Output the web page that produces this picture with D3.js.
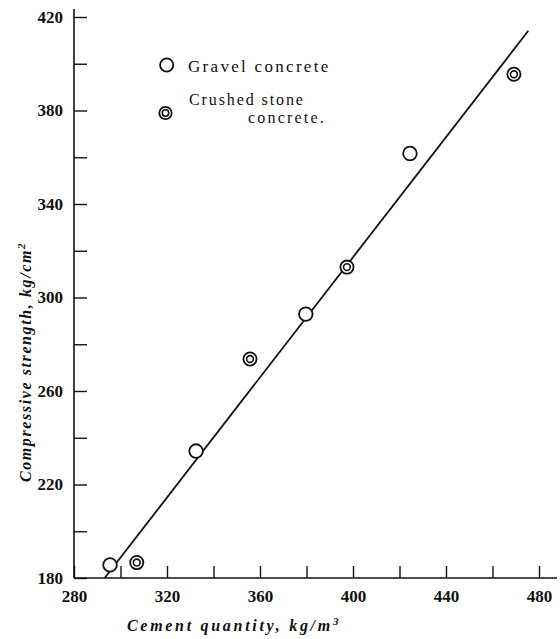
<!DOCTYPE html>
<html>
<head>
<meta charset="utf-8">
<script src="https://cdn.jsdelivr.net/npm/d3@7/dist/d3.min.js"></script>
<style>
  html, body { margin: 0; padding: 0; background: #fff; }
  svg { display: block; }
  text { fill: #111; font-family: "Liberation Serif", "DejaVu Serif", serif; }
</style>
</head>
<body>
<script>
// Cement quantity (kg/m3) vs compressive strength (kg/cm2)
const gravelX = [295.5, 332.5, 379.7, 424.5];
const gravelY = [185.6, 234.3, 292.9, 361.6];
const crushedX = [307.0, 355.7, 397.4, 469.2];
const crushedY = [186.6, 273.7, 313.0, 395.5];
// straight-line fit drawn across the data
const fitX = [293.2, 475.4];
const fitY = [180.0, 414.1];

const xTicks = [280, 300, 320, 340, 360, 380, 400, 420, 440, 460, 480];
const xLabels = [280, 320, 360, 400, 440, 480];
const yTicks = [180, 200, 220, 240, 260, 280, 300, 320, 340, 360, 380, 400, 420];
const yLabels = [180, 220, 260, 300, 340, 380, 420];

const W = 560, H = 639;
const svg = d3.select("body").append("svg").attr("width", W).attr("height", H);

const x = d3.scaleLinear().domain([280, 480]).range([74, 539]);
const y = d3.scaleLinear().domain([180, 420]).range([578, 17]);

const ink = "#111";
const serif = "'Liberation Serif', 'DejaVu Serif', serif";

// axis lines (extend a little past the last ticks)
svg.append("line").attr("x1", x(280)).attr("x2", 557)
  .attr("y1", y(180)).attr("y2", y(180))
  .attr("stroke", ink).attr("stroke-width", 1.6);
svg.append("line").attr("x1", x(280)).attr("x2", x(280))
  .attr("y1", y(180)).attr("y2", 9)
  .attr("stroke", ink).attr("stroke-width", 1.6);

// x axis: inward ticks
const xAxis = d3.axisBottom(x).tickValues(xTicks)
  .tickSize(-12).tickPadding(12).tickSizeOuter(0)
  .tickFormat(d => xLabels.includes(d) ? d : "");
const gx = svg.append("g").attr("transform", `translate(0,${y(180)})`).call(xAxis)
  .attr("font-family", null);
gx.select(".domain").remove();
gx.selectAll(".tick line").attr("stroke", ink).attr("stroke-width", 1.4);
gx.selectAll(".tick text").style("font-family", serif).style("font-size", "17px")
  .style("font-weight", "bold").attr("fill", ink).attr("dy", "0.72em");

// y axis: inward ticks
const yAxis = d3.axisLeft(y).tickValues(yTicks)
  .tickSize(-13).tickPadding(11).tickSizeOuter(0)
  .tickFormat(d => yLabels.includes(d) ? d : "");
const gy = svg.append("g").attr("transform", `translate(${x(280)},0)`).call(yAxis)
  .attr("font-family", null);
gy.select(".domain").remove();
gy.selectAll(".tick line").attr("stroke", ink).attr("stroke-width", 1.4);
gy.selectAll(".tick text").style("font-family", serif).style("font-size", "17px")
  .style("font-weight", "bold").attr("fill", ink);

// fitted line
svg.append("path")
  .datum(d3.zip(fitX, fitY))
  .attr("d", d3.line().x(d => x(d[0])).y(d => y(d[1])))
  .attr("fill", "none").attr("stroke", ink).attr("stroke-width", 1.8);

// gravel concrete: open circles
svg.append("g").selectAll("circle")
  .data(d3.zip(gravelX, gravelY)).join("circle")
  .attr("cx", d => x(d[0])).attr("cy", d => y(d[1])).attr("r", 6.8)
  .attr("fill", "#fff").attr("stroke", ink).attr("stroke-width", 1.8);

// crushed stone concrete: double circles
const dbl = svg.append("g").selectAll("g")
  .data(d3.zip(crushedX, crushedY)).join("g")
  .attr("transform", d => `translate(${x(d[0])},${y(d[1])})`);
dbl.append("circle").attr("r", 6.6).attr("fill", "#fff").attr("stroke", ink).attr("stroke-width", 1.8);
dbl.append("circle").attr("r", 3.4).attr("fill", "none").attr("stroke", ink).attr("stroke-width", 1.6);

// legend
svg.append("circle").attr("cx", 166.7).attr("cy", 65).attr("r", 6.6)
  .attr("fill", "#fff").attr("stroke", ink).attr("stroke-width", 1.8);
svg.append("text").attr("x", 188).attr("y", 72)
  .style("font-size", "17px").attr("letter-spacing", 2.3)
  .text("Gravel  concrete");
svg.append("circle").attr("cx", 165.5).attr("cy", 113).attr("r", 6.2)
  .attr("fill", "#fff").attr("stroke", ink).attr("stroke-width", 1.8);
svg.append("circle").attr("cx", 165.5).attr("cy", 113).attr("r", 3.2)
  .attr("fill", "none").attr("stroke", ink).attr("stroke-width", 1.6);
svg.append("text").attr("x", 189).attr("y", 105)
  .style("font-size", "16px").attr("letter-spacing", 1.9)
  .text("Crushed  stone");
svg.append("text").attr("x", 248).attr("y", 123)
  .style("font-size", "16px").attr("letter-spacing", 2.2)
  .text("concrete.");

// axis titles
const xt = svg.append("text").attr("x", 127).attr("y", 631)
  .style("font-size", "16px").style("font-style", "italic")
  .style("font-weight", "bold").attr("letter-spacing", 2.7);
xt.append("tspan").text("Cement  quantity,  kg/m");
xt.append("tspan").attr("dy", -6).style("font-size", "11px").text("3");

const yt = svg.append("text")
  .attr("transform", "translate(31,362) rotate(-90)")
  .attr("text-anchor", "middle")
  .style("font-size", "16px").style("font-style", "italic")
  .style("font-weight", "bold").attr("letter-spacing", 1.6);
yt.append("tspan").text("Compressive  strength,  kg/cm");
yt.append("tspan").attr("dy", -6).style("font-size", "11px").text("2");
</script>
</body>
</html>
